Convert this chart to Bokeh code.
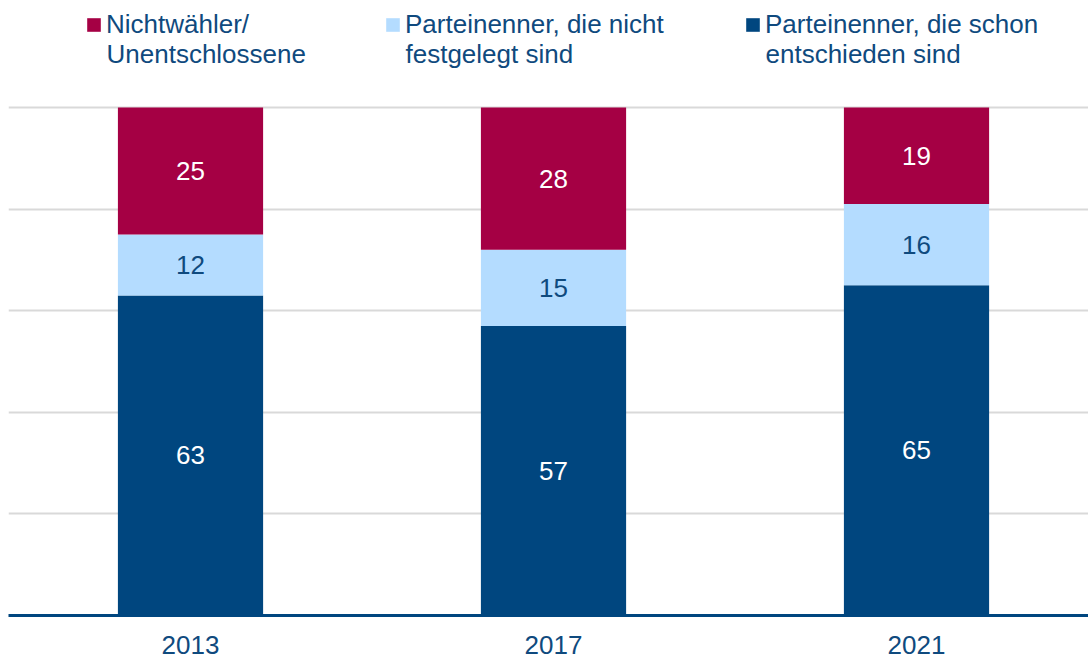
from bokeh.plotting import figure
from bokeh.models import Range1d, FixedTicker, ColumnDataSource, Legend, LegendItem, LabelSet, Label
from bokeh.core.properties import value
from bokeh.embed import file_html
from bokeh.resources import INLINE

years = ["2013", "2017", "2021"]
entschieden = [63, 57, 65]
nicht_festgelegt = [12, 15, 16]
nichtwaehler = [25, 28, 19]
series_line1 = ["Nichtwähler/", "Parteinenner, die nicht", "Parteinenner, die schon"]
series_line2 = ["Unentschlossene", "festgelegt sind", "entschieden sind"]

RED = "#A50044"
LIGHT = "#B4DCFF"
DARK = "#00467F"
TXT = "#0F4A7E"
FONT = "Liberation Sans"

xs = list(range(len(years)))
src = ColumnDataSource(dict(x=xs, a=entschieden, b=nicht_festgelegt, c=nichtwaehler))

p = figure(width=1088, height=662, output_backend="svg", toolbar_location=None,
           x_range=Range1d(-0.5014, 2.4738), y_range=Range1d(0, 120.08),
           min_border_left=8, min_border_right=0, min_border_top=5, min_border_bottom=47)
p.outline_line_color = None
p.background_fill_color = "white"

rs = p.vbar_stack(["a", "b", "c"], x="x", width=0.4, source=src,
                  color=[DARK, LIGHT, RED], line_color=None)

# labels
lab_x, lab_y, lab_t, lab_c = [], [], [], []
for i in range(len(years)):
    base = 0
    for vals, col in ((entschieden, "white"), (nicht_festgelegt, TXT), (nichtwaehler, "white")):
        v = vals[i]
        lab_x.append(xs[i]); lab_y.append(base + v / 2); lab_t.append(str(v)); lab_c.append(col)
        base += v
lsrc = ColumnDataSource(dict(x=lab_x, y=lab_y, t=lab_t, c=lab_c))
p.add_layout(LabelSet(x="x", y="y", text="t", source=lsrc, text_color="c",
                      text_align="center", text_baseline="middle",
                      text_font=value(FONT), text_font_size="26px"))

p.xaxis.ticker = FixedTicker(ticks=xs)
p.xaxis.major_label_overrides = {i: y for i, y in enumerate(years)}
p.xaxis.major_tick_line_color = None
p.xaxis.minor_tick_line_color = None
p.xaxis.axis_line_color = DARK
p.xaxis.axis_line_width = 3
p.xaxis.major_label_text_font = FONT
p.xaxis.major_label_text_font_size = "26px"
p.xaxis.major_label_text_color = TXT
p.xaxis.major_label_standoff = 14
p.xgrid.visible = False

p.yaxis.visible = False
p.ygrid.ticker = FixedTicker(ticks=[20, 40, 60, 80, 100])
p.ygrid.grid_line_color = "#D9D9D9"
p.ygrid.grid_line_width = 2

legend_x = [77, 376, 736]
order = [rs[2], rs[1], rs[0]]
for r, l1, l2, lx in zip(order, series_line1, series_line2, legend_x):
    lg = Legend(items=[LegendItem(label=l1, renderers=[r])], location=(lx, 575),
                orientation="horizontal", border_line_color=None, background_fill_alpha=0,
                label_text_font=FONT, label_text_font_size="26px", label_text_color=TXT,
                label_height=30, glyph_width=17, glyph_height=17,
                label_standoff=4, padding=0, margin=0, spacing=0)
    p.add_layout(lg, "center")
    p.add_layout(Label(x=lx + 21, y=562, x_units="screen", y_units="screen", text=l2,
                       text_font=FONT, text_font_size="26px", text_color=TXT,
                       text_baseline="middle", text_align="left"))

open("out.html", "w").write(file_html(p, INLINE))
